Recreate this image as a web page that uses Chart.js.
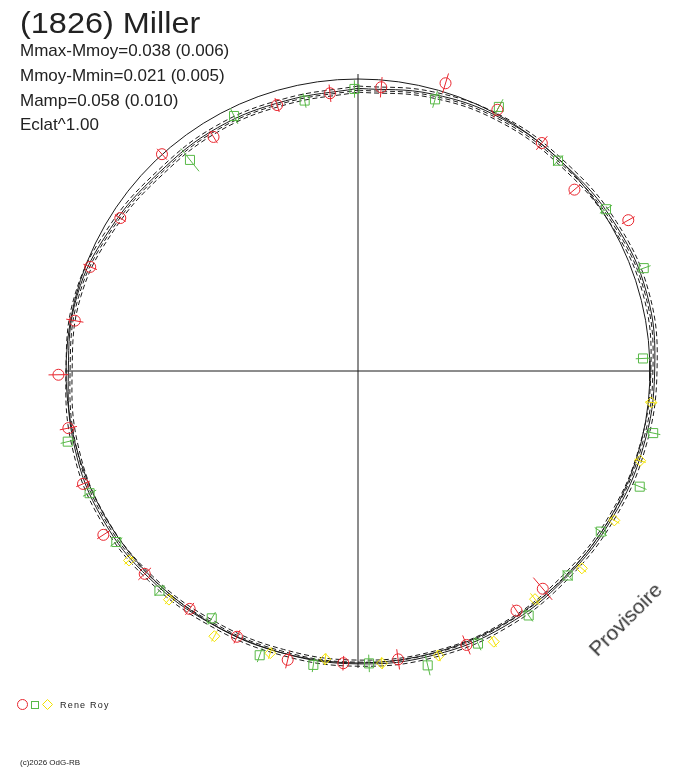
<!DOCTYPE html>
<html>
<head>
<meta charset="utf-8">
<script src="https://cdn.jsdelivr.net/npm/chart.js@4.4.0/dist/chart.umd.min.js"></script>
<style>
  body { margin: 0; background: #fff; }
  #wrap { position: relative; width: 688px; height: 768px; font-family: "Liberation Sans", Arial, sans-serif; color: #222; }
  #wrap canvas { position: absolute; left: 0; top: 0; }
  .txt { position: absolute; white-space: nowrap; }
</style>
</head>
<body>
<div id="wrap">
  <canvas id="polar" width="688" height="768"></canvas>
  <div class="txt" style="left:20px;top:8px;font-size:29.5px;line-height:29.5px;transform:scaleX(1.1);transform-origin:left top">(1826) Miller</div>
  <div class="txt" style="left:20px;top:42px;font-size:17px;line-height:17px">Mmax-Mmoy=0.038 (0.006)</div>
  <div class="txt" style="left:20px;top:67px;font-size:17px;line-height:17px">Mmoy-Mmin=0.021 (0.005)</div>
  <div class="txt" style="left:20px;top:92px;font-size:17px;line-height:17px">Mamp=0.058 (0.010)</div>
  <div class="txt" style="left:20px;top:116px;font-size:17px;line-height:17px">Eclat^1.00</div>
  <div class="txt" style="left:60px;top:701px;font-size:9px;line-height:9px;letter-spacing:1.2px">Rene Roy</div>
  <div class="txt" style="left:20px;top:759px;font-size:8px;line-height:8px">(c)2026 OdG-RB</div>
  <div class="txt" style="left:625px;top:619px;font-size:21px;line-height:21px;color:#333;transform:translate(-50%,-50%) rotate(-45deg)">Provisoire</div>
</div>
<script>
// phase (0..1, clockwise from top) and relative radius (1 = reference circle)
const redPhase = [0.013, 0.047, 0.078, 0.108, 0.139, 0.169, 0.388, 0.407, 0.440, 0.478, 0.508, 0.538, 0.568,
                  0.598, 0.629, 0.659, 0.688, 0.719, 0.748, 0.778, 0.809, 0.841, 0.883, 0.912, 0.953, 0.984];
const redR = [0.975, 1.030, 1.014, 1.003, 0.967, 1.060, 0.978, 0.984, 1.009, 0.997, 1.002, 1.018, 1.000,
              0.998, 1.008, 1.037, 1.018, 1.011, 1.026, 0.985, 0.984, 0.968, 1.001, 0.942, 0.952, 0.956];
const redErr = [0.035, 0.035, 0.03, 0.03, 0.025, 0.025, 0.05, 0.025, 0.035, 0.035, 0.025, 0.03, 0.025,
                0.025, 0.03, 0.025, 0.025, 0.03, 0.034, 0.03, 0.025, 0.022, 0.025, 0.025, 0.025, 0.03];

const greenPhase = [0.044, 0.078, 0.121, 0.158, 0.195, 0.243, 0.283, 0.312, 0.343, 0.373, 0.403, 0.434, 0.463,
                    0.494, 0.524, 0.553, 0.585, 0.617, 0.652, 0.682, 0.712, 0.893, 0.928, 0.969, 0.998];
const greenR = [0.967, 1.025, 0.994, 1.014, 1.040, 0.977, 1.033, 1.043, 0.997, 1.003, 1.021, 1.020, 1.036,
                1.002, 1.018, 1.030, 0.984, 1.014, 1.014, 1.010, 1.023, 0.924, 0.971, 0.944, 0.966];
const greenErr = [0.03, 0.03, 0.025, 0.025, 0.025, 0.025, 0.025, 0.025, 0.025, 0.025, 0.025, 0.025, 0.035,
                  0.03, 0.025, 0.025, 0.025, 0.025, 0.025, 0.025, 0.025, 0.05, 0.03, 0.025, 0.03];

const yellowPhase = [0.267, 0.299, 0.334, 0.365, 0.395, 0.426, 0.456, 0.487, 0.518, 0.548, 0.579, 0.610, 0.640];
const yellowR = [1.010, 1.014, 1.016, 1.022, 0.989, 1.037, 1.013, 1.004, 0.993, 1.012, 1.033, 1.016, 1.018];
const yellowErr = [0.02, 0.02, 0.02, 0.02, 0.025, 0.02, 0.02, 0.02, 0.02, 0.02, 0.02, 0.02, 0.02];

// fitted lightcurve (solid) and its dashed envelope, every 15 degrees
const modelAngles = [0, 15, 30, 45, 60, 75, 90, 105, 120, 135, 150, 165, 180, 195, 210, 225, 240, 255, 270, 285, 300, 315, 330, 345];
const modelR = [0.968, 0.982, 0.995, 1.000, 1.014, 1.024, 1.016, 1.011, 1.006, 1.004, 1.008, 1.007,
                1.003, 1.000, 1.001, 1.007, 1.011, 1.005, 0.992, 0.996, 0.978, 0.962, 0.962, 0.958];
const dashInnerR = [0.955, 0.969, 0.982, 0.987, 1.001, 1.011, 1.003, 0.998, 0.993, 0.991, 0.995, 0.994,
                    0.990, 0.987, 0.988, 0.994, 0.998, 0.992, 0.979, 0.983, 0.965, 0.949, 0.949, 0.945];
const dashMidR = [0.962, 0.976, 0.989, 0.994, 1.008, 1.018, 1.010, 1.005, 1.000, 0.998, 1.002, 1.001,
                  0.997, 0.994, 0.995, 1.001, 1.005, 0.999, 0.986, 0.990, 0.972, 0.956, 0.956, 0.952];
const dashOuterR = [0.976, 0.990, 1.003, 1.008, 1.022, 1.032, 1.024, 1.019, 1.014, 1.012, 1.016, 1.015,
                    1.011, 1.008, 1.009, 1.015, 1.019, 1.013, 1.000, 1.004, 0.986, 0.970, 0.970, 0.966];

const axisX = [-1.003, 1.010];
const axisY = [-1.017, 1.017];

const RED = "#e8262e", GREEN = "#58b947", YELLOW = "#f2e200", INK = "#1a1a1a";

function toXY(phase, r) {
  const a = phase * 2 * Math.PI;
  return { x: r * Math.sin(a), y: r * Math.cos(a) };
}

function curve(angles, radii) {
  const pts = angles.map((d, i) => toXY(d / 360, radii[i]));
  pts.push(pts[0]);
  return pts;
}

// plain reference circle
const refCircle = [];
for (let d = 0; d <= 360; d += 4) refCircle.push(toXY(d / 360, 1));

function session(label, phase, r, err, color, style, radius) {
  return {
    label: label,
    data: phase.map((p, i) => toXY(p, r[i])),
    phase: phase, r: r, err: err,
    borderColor: color,
    backgroundColor: "rgba(0,0,0,0)",
    borderWidth: 1,
    pointStyle: style,
    pointRadius: radius,
    showLine: false,
    order: 1
  };
}

function line(data, dash, tension) {
  return {
    data: data,
    showLine: true,
    borderColor: INK,
    borderWidth: 1,
    borderDash: dash,
    pointRadius: 0,
    tension: tension,
    order: 10
  };
}

// radial error bars through each measurement
const errorBars = {
  id: "errorBars",
  afterDatasetsDraw(chart) {
    const ctx = chart.ctx, sx = chart.scales.x, sy = chart.scales.y;
    chart.data.datasets.forEach(ds => {
      if (!ds.err) return;
      ctx.save();
      ctx.strokeStyle = ds.borderColor;
      ctx.lineWidth = 1;
      ds.phase.forEach((p, i) => {
        const a = toXY(p, ds.r[i] - ds.err[i]);
        const b = toXY(p, ds.r[i] + ds.err[i]);
        ctx.beginPath();
        ctx.moveTo(sx.getPixelForValue(a.x), sy.getPixelForValue(a.y));
        ctx.lineTo(sx.getPixelForValue(b.x), sy.getPixelForValue(b.y));
        ctx.stroke();
      });
      ctx.restore();
    });
  }
};

// observer key in the lower left corner
const observerKey = {
  id: "observerKey",
  afterDraw(chart) {
    const ctx = chart.ctx;
    ctx.save();
    ctx.lineWidth = 1;
    ctx.strokeStyle = RED;
    ctx.beginPath(); ctx.arc(22.5, 704.5, 5, 0, 2 * Math.PI); ctx.stroke();
    ctx.strokeStyle = GREEN;
    ctx.strokeRect(31.5, 701.5, 7, 7);
    ctx.strokeStyle = YELLOW;
    ctx.beginPath();
    ctx.moveTo(47.5, 699.5); ctx.lineTo(52.5, 704.5); ctx.lineTo(47.5, 709.5); ctx.lineTo(42.5, 704.5);
    ctx.closePath(); ctx.stroke();
    ctx.restore();
  }
};

new Chart(document.getElementById("polar"), {
  type: "scatter",
  data: {
    datasets: [
      session("Rene Roy 1", redPhase, redR, redErr, RED, "circle", 5.5),
      session("Rene Roy 2", greenPhase, greenR, greenErr, GREEN, "rect", 6.4),
      session("Rene Roy 3", yellowPhase, yellowR, yellowErr, YELLOW, "rectRot", 5.5),
      line(refCircle, [], 0),
      line(curve(modelAngles, modelR), [], 0.4),
      line(curve(modelAngles, dashInnerR), [5, 3], 0.4),
      line(curve(modelAngles, dashMidR), [5, 3], 0.4),
      line(curve(modelAngles, dashOuterR), [5, 3], 0.4),
      line([{ x: axisX[0], y: 0 }, { x: axisX[1], y: 0 }], [], 0),
      line([{ x: 0, y: axisY[0] }, { x: 0, y: axisY[1] }], [], 0)
    ]
  },
  options: {
    responsive: false,
    animation: false,
    devicePixelRatio: 1,
    layout: { padding: { left: 51.4, right: 23.4, top: 64.4, bottom: 90.4 } },
    scales: {
      x: { type: "linear", min: -1.05, max: 1.05, display: false },
      y: { type: "linear", min: -1.05, max: 1.05, display: false }
    },
    plugins: { legend: { display: false }, tooltip: { enabled: false } }
  },
  plugins: [errorBars, observerKey]
});
</script>
</body>
</html>
